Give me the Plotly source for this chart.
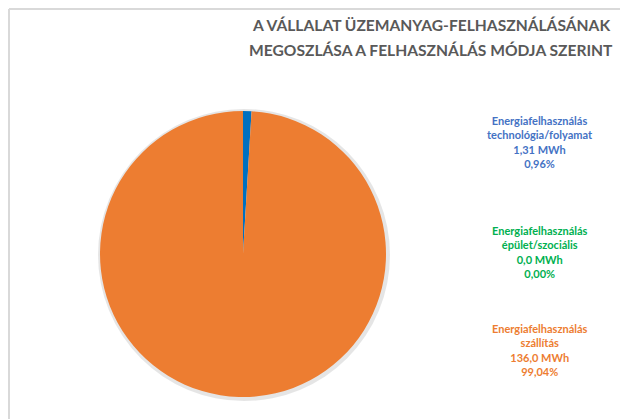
import plotly.graph_objects as go

# Data
categories = ["Energiafelhasználás<br>technológia/folyamat",
              "Energiafelhasználás<br>épület/szociális",
              "Energiafelhasználás<br>szállítás"]
values_mwh = [1.31, 0.0, 136.0]
value_labels = ["1,31 MWh", "0,0 MWh", "136,0 MWh"]
percent_labels = ["0,96%", "0,00%", "99,04%"]
slice_colors = ["#0070C0", "#00B050", "#ED7D31"]
label_colors = ["#4472C4", "#00B050", "#ED7D31"]
title_lines = ["A VÁLLALAT ÜZEMANYAG-FELHASZNÁLÁSÁNAK",
               "MEGOSZLÁSA A FELHASZNÁLÁS MÓDJA SZERINT"]

# page body has an 8px margin; work in window coordinates and shift
OFF = 8
W, H = 628 - OFF, 419 - OFF


def px(x):
    return (x - OFF) / W


def py(y):
    return 1 - (y - OFF) / H


fig = go.Figure()

# soft shadow behind the pie
fig.add_trace(go.Pie(
    values=[1], marker=dict(colors=["rgba(0,0,0,0.10)"], line=dict(width=0)),
    textinfo="none", hoverinfo="skip", showlegend=False, sort=False,
    domain=dict(x=[px(98), px(390)], y=[py(401), py(109)]),
))

fig.add_trace(go.Pie(
    labels=categories, values=values_mwh, sort=False, direction="clockwise",
    rotation=0, marker=dict(colors=slice_colors, line=dict(width=0)),
    textinfo="none", showlegend=False,
    domain=dict(x=[px(100), px(386)], y=[py(397), py(111)]),
))

# data labels
label_y = [142, 252, 350]
for cat, v, p, c, y in zip(categories, value_labels, percent_labels, label_colors, label_y):
    fig.add_annotation(
        x=px(540), y=py(y), xref="paper", yref="paper", xanchor="center", yanchor="middle",
        text=f"<b>{cat}<br>{v}<br>{p}</b>", showarrow=False, align="center",
        font=dict(family="Lato, Calibri, sans-serif", size=11, color=c),
    )

# title
for line, y in zip(title_lines, [25, 50]):
    fig.add_annotation(
        x=px(431), y=py(y), xref="paper", yref="paper", xanchor="center", yanchor="middle",
        text=f"<b>{line}</b>", showarrow=False, align="center",
        font=dict(family="Lato, Calibri, sans-serif", size=15.6, color="#595959"),
    )

# chart frame (left/top border)
fig.add_shape(type="line", xref="paper", yref="paper", x0=px(9), x1=px(9), y0=0, y1=py(9),
              line=dict(color="#D9D9D9", width=2))
fig.add_shape(type="line", xref="paper", yref="paper", x0=px(9), x1=1, y0=py(9), y1=py(9),
              line=dict(color="#D9D9D9", width=2))

fig.update_layout(
    width=W, height=H, margin=dict(l=0, r=0, t=0, b=0),
    paper_bgcolor="white", plot_bgcolor="white",
)

fig.write_html("out.html")
